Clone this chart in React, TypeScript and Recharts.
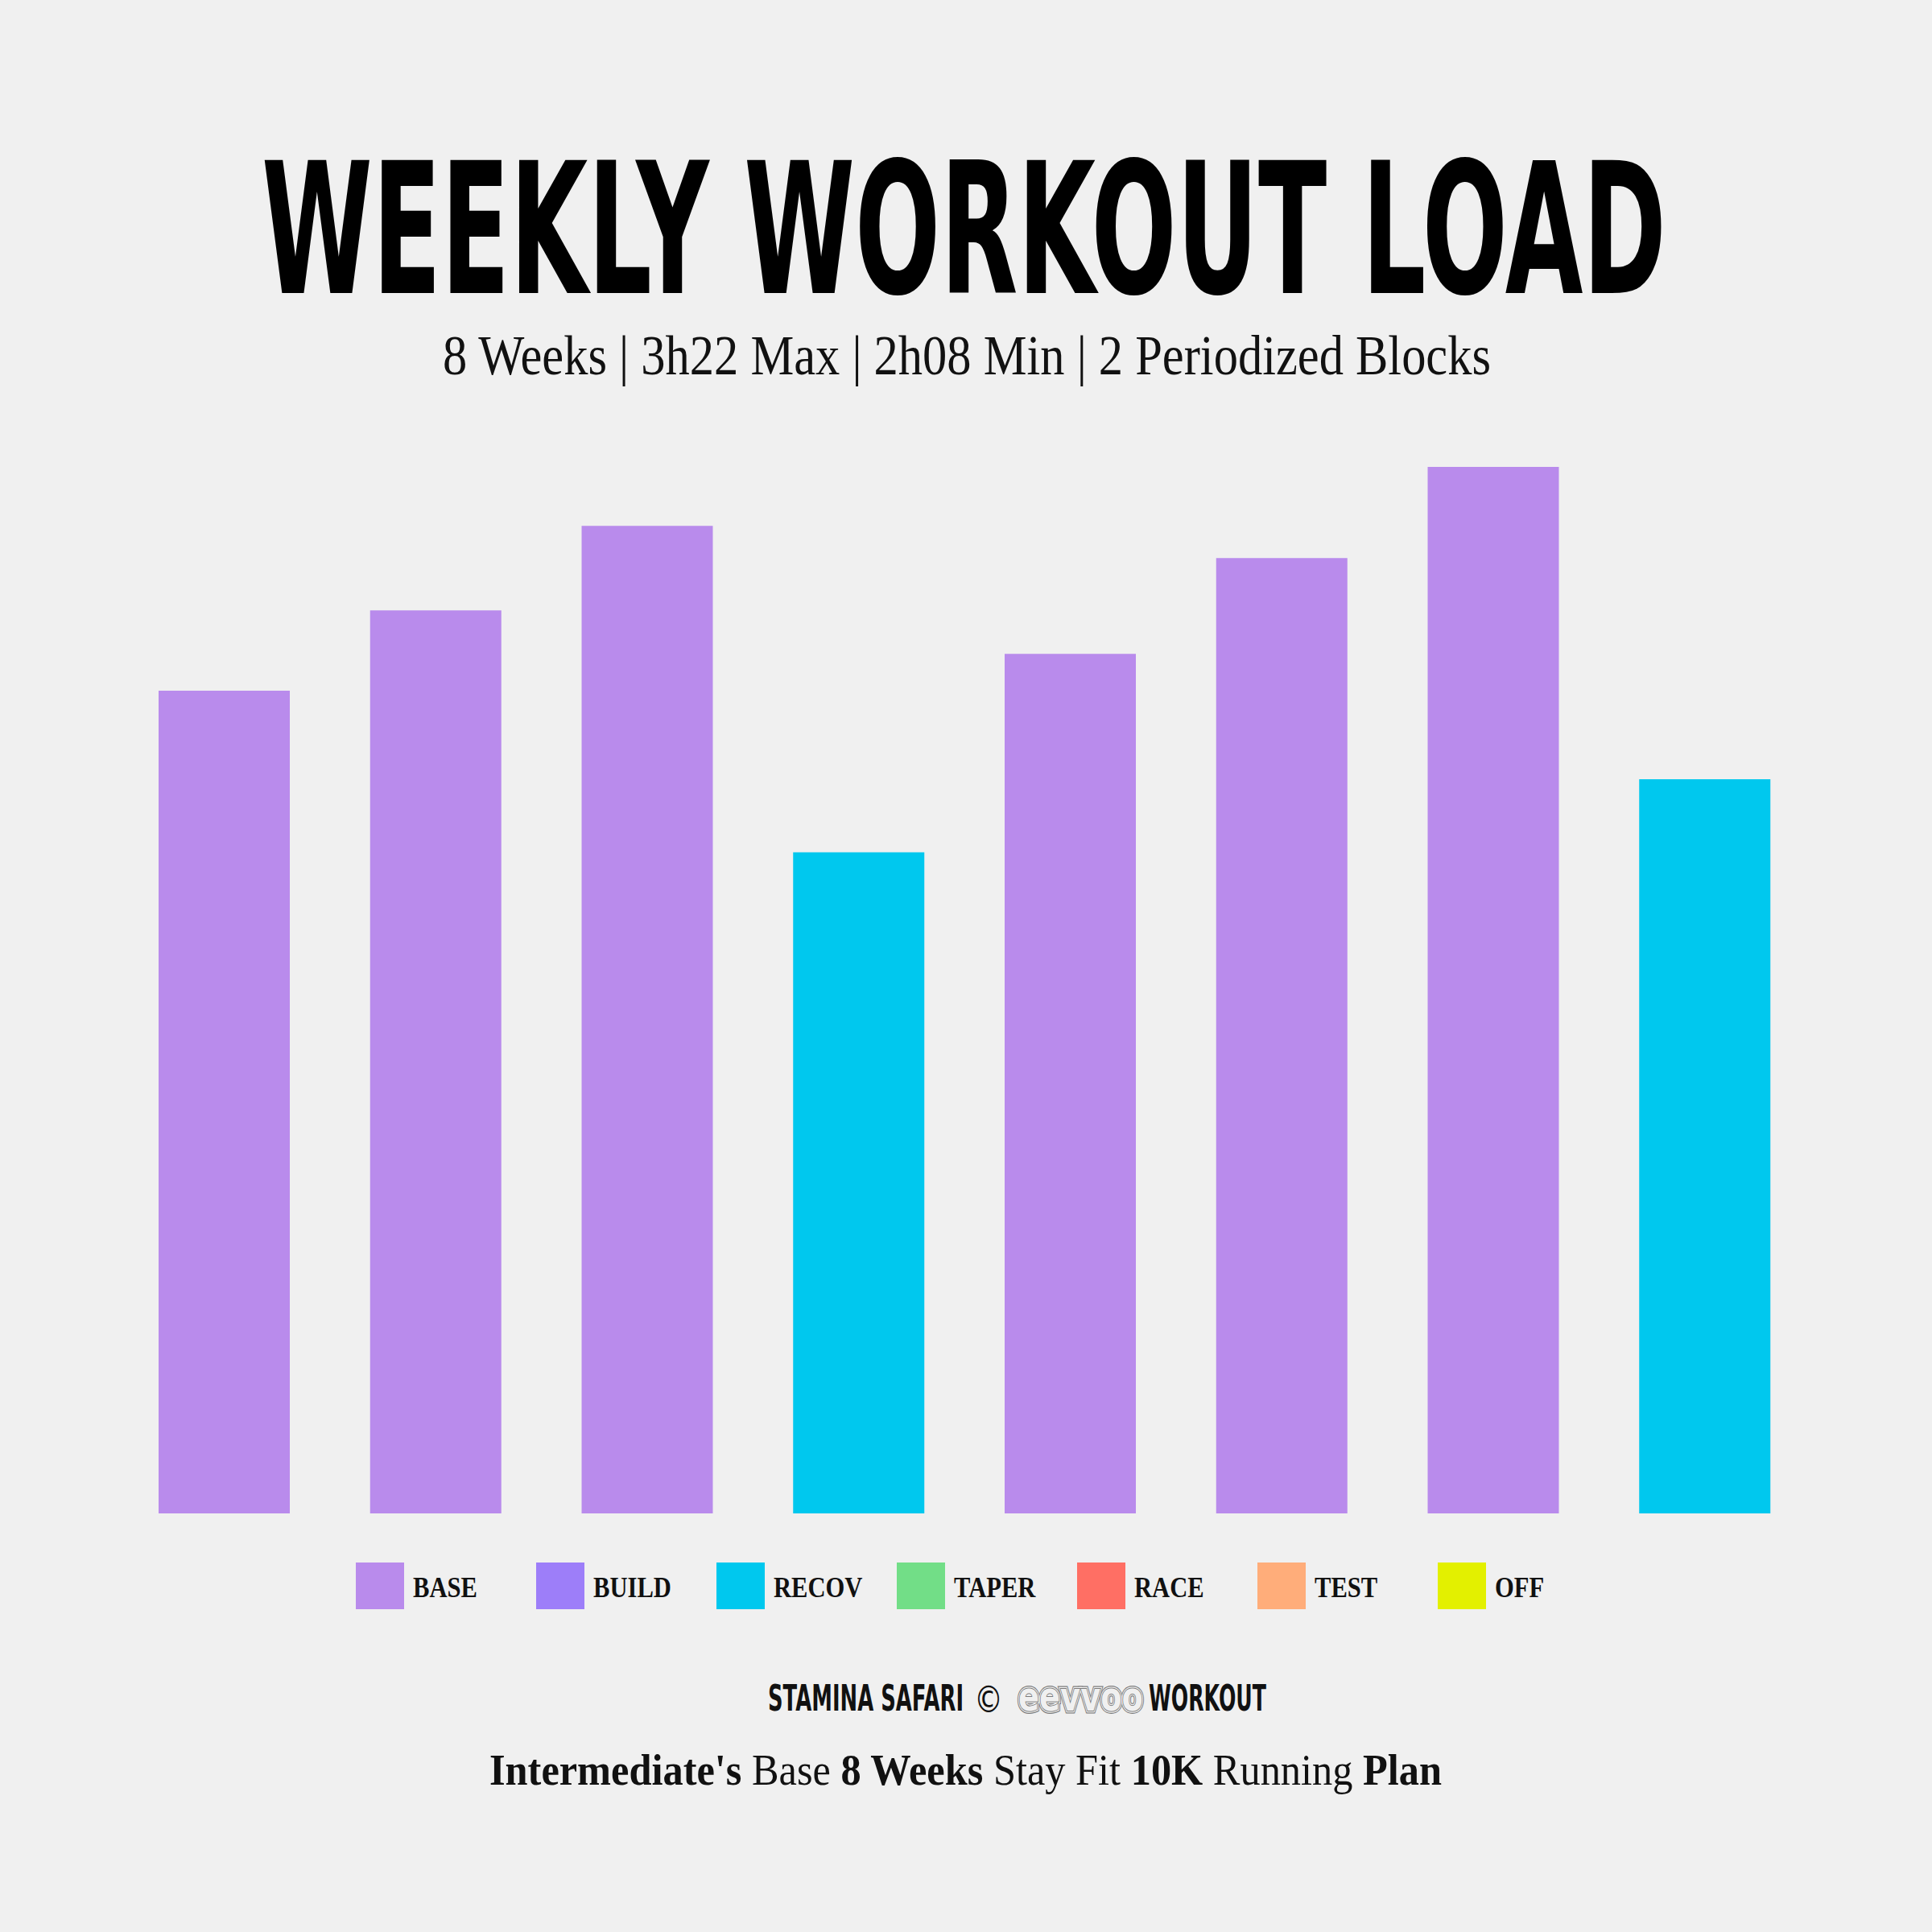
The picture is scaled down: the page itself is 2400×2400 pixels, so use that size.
import React from 'react';
import { BarChart, Bar, XAxis, YAxis, Cell } from 'recharts';

// ---- data ----
const weeks = ['W1', 'W2', 'W3', 'W4', 'W5', 'W6', 'W7', 'W8'];
const minutes = [158.8, 174.3, 190.6, 127.6, 165.9, 184.4, 202, 141.7];
const weekPhase = ['BASE', 'BASE', 'BASE', 'RECOV', 'BASE', 'BASE', 'BASE', 'RECOV'];
const phaseNames = ['BASE', 'BUILD', 'RECOV', 'TAPER', 'RACE', 'TEST', 'OFF'];
const phaseColors = ['#B98BEC', '#9D7EF9', '#00C8EE', '#72DE87', '#FF6F64', '#FFAD7A', '#E3F000'];

const titleText = 'WEEKLY WORKOUT LOAD';
const subtitleText = '8 Weeks | 3h22 Max | 2h08 Min | 2 Periodized Blocks';
const creditParts = ['STAMINA SAFARI', '©', 'eevvoo', 'WORKOUT'];
const planParts: [string, boolean][] = [
  ["Intermediate's", true],
  [' Base ', false],
  ['8 Weeks', true],
  [' Stay Fit ', false],
  ['10K', true],
  [' Running ', false],
  ['Plan', true],
];

const data = weeks.map((w, i) => ({ week: w, minutes: minutes[i], phase: weekPhase[i] }));
const colorOf = (p: string) => phaseColors[phaseNames.indexOf(p)];

const BG = '#F0F0F0';
const SERIF = '"Liberation Serif", "DejaVu Serif", serif';
const SANS = '"DejaVu Sans", "Liberation Sans", sans-serif';

export default function App() {
  return (
    <div style={{ position: 'absolute', left: 0, top: 0, width: 2400, height: 2400, background: BG, overflow: 'hidden' }}>
      <div style={{ position: 'absolute', left: 0, top: 0 }}>
        <BarChart
          width={2400}
          height={2400}
          data={data}
          margin={{ top: 580, right: 151, bottom: 520, left: 147 }}
        >
          <XAxis dataKey="week" hide />
          <YAxis hide domain={[0, 'dataMax']} />
          <Bar dataKey="minutes" barSize={163} isAnimationActive={false}>
            {data.map((d, i) => (
              <Cell key={i} fill={colorOf(d.phase)} />
            ))}
          </Bar>
        </BarChart>
      </div>

      <svg width={2400} height={2400} style={{ position: 'absolute', left: 0, top: 0, pointerEvents: 'none' }}>
        <text
          x={325}
          y={364}
          textLength={1745}
          lengthAdjust="spacingAndGlyphs"
          fontFamily={SANS}
          fontWeight="bold"
          fontSize={226}
          fill="#000"
        >
          {titleText}
        </text>
        <text
          x={550}
          y={465}
          textLength={1302}
          lengthAdjust="spacingAndGlyphs"
          fontFamily={SERIF}
          fontSize={70}
          fill="#111"
        >
          {subtitleText}
        </text>

        {/* legend */}
        {phaseNames.map((p, i) => (
          <g key={p}>
            <rect x={442 + i * 224} y={1941} width={60} height={58} fill={phaseColors[i]} />
            <text
              transform={`translate(${513 + i * 224},1984) scale(0.85,1)`}
              fontFamily={SERIF}
              fontWeight="bold"
              fontSize={36}
              fill="#111"
            >
              {p}
            </text>
          </g>
        ))}

        {/* credit line */}
        <text x={954} y={2125} textLength={243} lengthAdjust="spacingAndGlyphs" fontFamily={SANS} fontWeight="bold" fontSize={44} fill="#111">
          {creditParts[0]}
        </text>
        <text x={1210} y={2127} textLength={36} lengthAdjust="spacingAndGlyphs" fontFamily={SANS} fontSize={46} fill="#111">
          {creditParts[1]}
        </text>
        <g fontFamily={SANS} fontWeight="bold" fontSize={50}>
          <text x={1265} y={2125} textLength={155} lengthAdjust="spacingAndGlyphs" fill="none" stroke="#7a7a7a" strokeWidth={7}>
            {creditParts[2]}
          </text>
          <text x={1265} y={2125} textLength={155} lengthAdjust="spacingAndGlyphs" fill="none" stroke={BG} strokeWidth={4.5}>
            {creditParts[2]}
          </text>
          <text x={1265} y={2125} textLength={155} lengthAdjust="spacingAndGlyphs" fill="none" stroke="#7a7a7a" strokeWidth={2}>
            {creditParts[2]}
          </text>
          <text x={1265} y={2125} textLength={155} lengthAdjust="spacingAndGlyphs" fill={BG} stroke="none">
            {creditParts[2]}
          </text>
        </g>
        <text x={1427} y={2125} textLength={146} lengthAdjust="spacingAndGlyphs" fontFamily={SANS} fontWeight="bold" fontSize={44} fill="#111">
          {creditParts[3]}
        </text>

        {/* plan line */}
        <text x={608} y={2217} textLength={1183} lengthAdjust="spacingAndGlyphs" fontFamily={SERIF} fontSize={54} fill="#111">
          {planParts.map(([t, b], i) => (
            <tspan key={i} fontWeight={b ? 'bold' : 'normal'}>{t}</tspan>
          ))}
        </text>
      </svg>
    </div>
  );
}
